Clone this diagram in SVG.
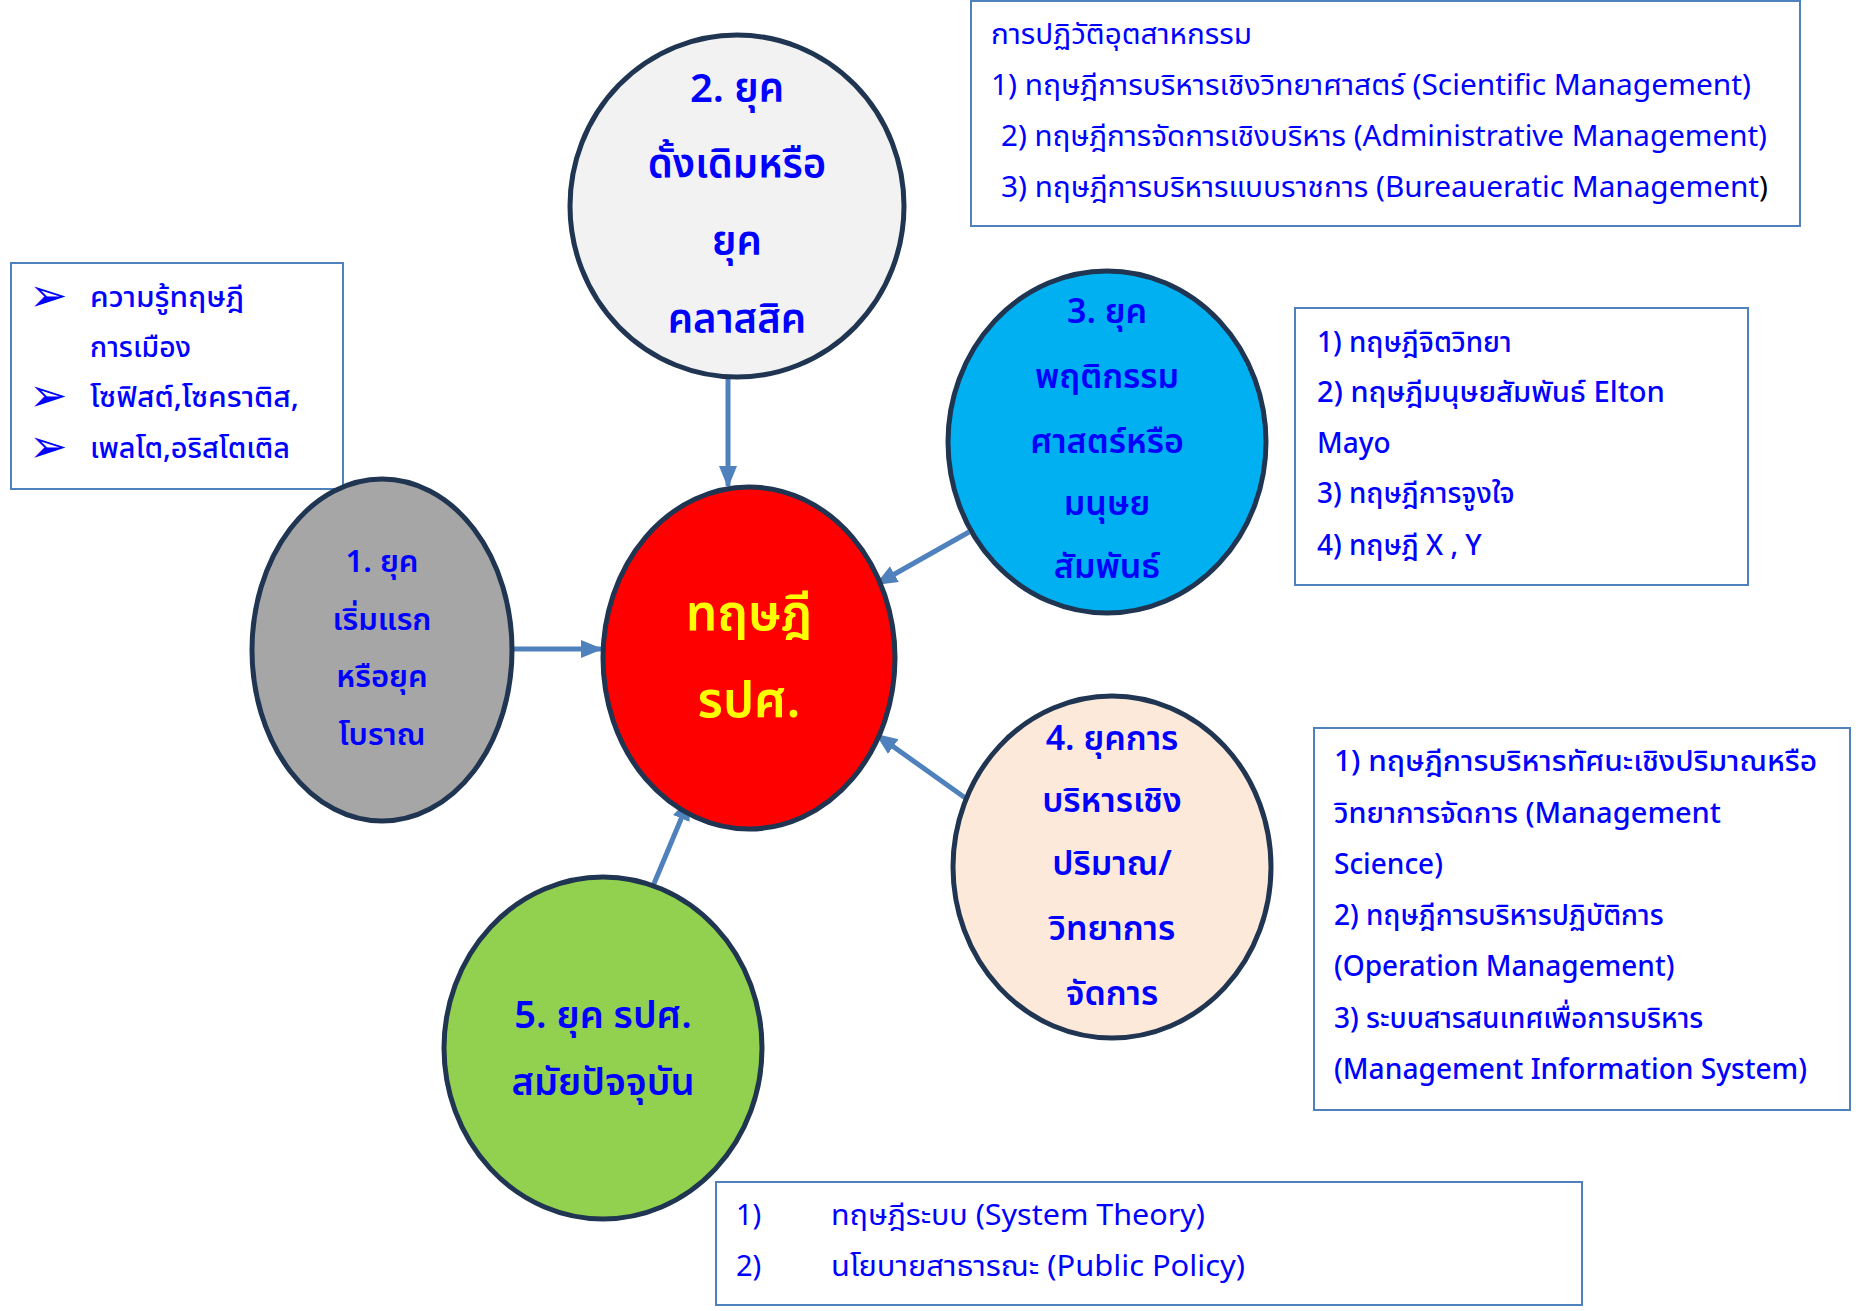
<svg xmlns="http://www.w3.org/2000/svg" width="1865" height="1311" viewBox="0 0 1865 1311">
<defs>
<style>
.t{font-family:"Noto Sans Thai","Noto Sans",sans-serif;fill:#0000ff}
.b{font-weight:600}
.m{font-weight:500}
.bul{font-family:"DejaVu Sans",sans-serif;fill:#0000ff;font-size:46px}
.box{fill:#ffffff;stroke:#4f81bd;stroke-width:2}
.node{stroke:#1f3552;stroke-width:5}
.c{text-anchor:middle}
.conn{stroke:#4f81bd;stroke-width:5;fill:none;marker-end:url(#ah)}
</style>
<marker id="ah" markerUnits="userSpaceOnUse" markerWidth="22" markerHeight="22" viewBox="0 0 22 22" refX="20" refY="11" orient="auto">
<path d="M0,2 L22,11 L0,20 Z" fill="#4f81bd"/>
</marker>
</defs>
<rect width="1865" height="1311" fill="#ffffff"/>

<g id="box-ancient">
<rect class="box" x="11" y="263" width="332" height="226"/>
<text class="bul" x="29" y="311">➢</text>
<text class="t m" x="90" y="307" font-size="29" textLength="154" lengthAdjust="spacingAndGlyphs">ความรู้ทฤษฎี</text>
<text class="t m" x="90" y="357" font-size="29" textLength="101" lengthAdjust="spacingAndGlyphs">การเมือง</text>
<text class="bul" x="29" y="411">➢</text>
<text class="t m" x="90" y="407" font-size="29" textLength="209" lengthAdjust="spacingAndGlyphs">โซฟิสต์,โซคราติส,</text>
<text class="bul" x="29" y="462">➢</text>
<text class="t m" x="90" y="458" font-size="29" textLength="200" lengthAdjust="spacingAndGlyphs">เพลโต,อริสโตเติล</text>
</g>

<g id="box-classic">
<rect class="box" x="971" y="1" width="829" height="225"/>
<text class="t" x="991" y="44" font-size="29" textLength="261" lengthAdjust="spacingAndGlyphs">การปฏิวัติอุตสาหกรรม</text>
<text class="t" x="991" y="95" font-size="29" textLength="760" lengthAdjust="spacingAndGlyphs">1) ทฤษฎีการบริหารเชิงวิทยาศาสตร์ (Scientific Management)</text>
<text class="t" x="1001" y="146" font-size="29" textLength="766" lengthAdjust="spacingAndGlyphs">2) ทฤษฎีการจัดการเชิงบริหาร (Administrative Management)</text>
<text class="t" x="1001" y="197" font-size="29" textLength="767" lengthAdjust="spacingAndGlyphs">3) ทฤษฎีการบริหารแบบราชการ (Bureaueratic Management<tspan fill="#000000">)</tspan></text>
</g>

<g id="box-behavior">
<rect class="box" x="1295" y="308" width="453" height="277"/>
<text class="t m" x="1317" y="352" font-size="28">1) ทฤษฎีจิตวิทยา</text>
<text class="t m" x="1317" y="402" font-size="28" textLength="348" lengthAdjust="spacingAndGlyphs">2) ทฤษฎีมนุษยสัมพันธ์ Elton</text>
<text class="t m" x="1317" y="453" font-size="28">Mayo</text>
<text class="t m" x="1317" y="503" font-size="28">3) ทฤษฎีการจูงใจ</text>
<text class="t m" x="1317" y="555" font-size="28">4) ทฤษฎี X , Y</text>
</g>

<g id="box-quant">
<rect class="box" x="1314" y="728" width="536" height="382"/>
<text class="t m" x="1334" y="771" font-size="28" textLength="483" lengthAdjust="spacingAndGlyphs">1) ทฤษฎีการบริหารทัศนะเชิงปริมาณหรือ</text>
<text class="t m" x="1334" y="823" font-size="28" textLength="387" lengthAdjust="spacingAndGlyphs">วิทยาการจัดการ (Management</text>
<text class="t m" x="1334" y="874" font-size="28">Science)</text>
<text class="t m" x="1334" y="925" font-size="28">2) ทฤษฎีการบริหารปฏิบัติการ</text>
<text class="t m" x="1334" y="976" font-size="28">(Operation Management)</text>
<text class="t m" x="1334" y="1028" font-size="28">3) ระบบสารสนเทศเพื่อการบริหาร</text>
<text class="t m" x="1334" y="1079" font-size="28" textLength="473" lengthAdjust="spacingAndGlyphs">(Management Information System)</text>
</g>

<g id="box-modern">
<rect class="box" x="716" y="1182" width="866" height="123"/>
<text class="t" x="736" y="1225" font-size="29">1)</text>
<text class="t" x="831" y="1225" font-size="29" textLength="374" lengthAdjust="spacingAndGlyphs">ทฤษฎีระบบ (System Theory)</text>
<text class="t" x="736" y="1276" font-size="29">2)</text>
<text class="t" x="831" y="1276" font-size="29" textLength="414" lengthAdjust="spacingAndGlyphs">นโยบายสาธารณะ (Public Policy)</text>
</g>

<g id="connectors">
<line class="conn" x1="511" y1="649" x2="601" y2="649"/>
<line class="conn" x1="728" y1="377" x2="728" y2="486"/>
<line class="conn" x1="969" y1="532" x2="877" y2="584"/>
<line class="conn" x1="971" y1="802" x2="877" y2="735"/>
<line class="conn" x1="653" y1="886" x2="689" y2="800"/>
</g>

<g id="node-center">
<ellipse class="node" cx="749" cy="658" rx="146" ry="171" fill="#ff0000"/>
<text class="t c b" x="749" y="630" font-size="50" style="fill:#ffff00">ทฤษฎี</text>
<text class="t c b" x="749" y="717" font-size="50" style="fill:#ffff00">รปศ.</text>
</g>

<g id="node-1">
<ellipse class="node" cx="382" cy="650" rx="130" ry="171" fill="#a6a6a6"/>
<text class="t c b" x="382" y="572" font-size="31">1. ยุค</text>
<text class="t c b" x="382" y="630" font-size="31">เริ่มแรก</text>
<text class="t c b" x="382" y="687" font-size="31">หรือยุค</text>
<text class="t c b" x="382" y="745" font-size="31">โบราณ</text>
</g>

<g id="node-2">
<ellipse class="node" cx="737" cy="206" rx="167" ry="171" fill="#f2f2f2"/>
<text class="t c b" x="737" y="102" font-size="40">2. ยุค</text>
<text class="t c b" x="737" y="178" font-size="40">ดั้งเดิมหรือ</text>
<text class="t c b" x="737" y="255" font-size="40">ยุค</text>
<text class="t c b" x="737" y="333" font-size="40">คลาสสิค</text>
</g>

<g id="node-3">
<ellipse class="node" cx="1107" cy="442" rx="159" ry="171" fill="#00b0f0"/>
<text class="t c b" x="1107" y="323" font-size="34">3. ยุค</text>
<text class="t c b" x="1107" y="388" font-size="34">พฤติกรรม</text>
<text class="t c b" x="1107" y="453" font-size="34">ศาสตร์หรือ</text>
<text class="t c b" x="1107" y="515" font-size="34">มนุษย</text>
<text class="t c b" x="1107" y="578" font-size="34">สัมพันธ์</text>
</g>

<g id="node-4">
<ellipse class="node" cx="1112" cy="867" rx="159" ry="171" fill="#fde9d9"/>
<text class="t c b" x="1112" y="750" font-size="34">4. ยุคการ</text>
<text class="t c b" x="1112" y="812" font-size="34">บริหารเชิง</text>
<text class="t c b" x="1112" y="875" font-size="34">ปริมาณ/</text>
<text class="t c b" x="1112" y="940" font-size="34">วิทยาการ</text>
<text class="t c b" x="1112" y="1005" font-size="34">จัดการ</text>
</g>

<g id="node-5">
<ellipse class="node" cx="603" cy="1048" rx="159" ry="171" fill="#92d050"/>
<text class="t c b" x="603" y="1028" font-size="38">5. ยุค รปศ.</text>
<text class="t c b" x="603" y="1095" font-size="38">สมัยปัจจุบัน</text>
</g>
</svg>
